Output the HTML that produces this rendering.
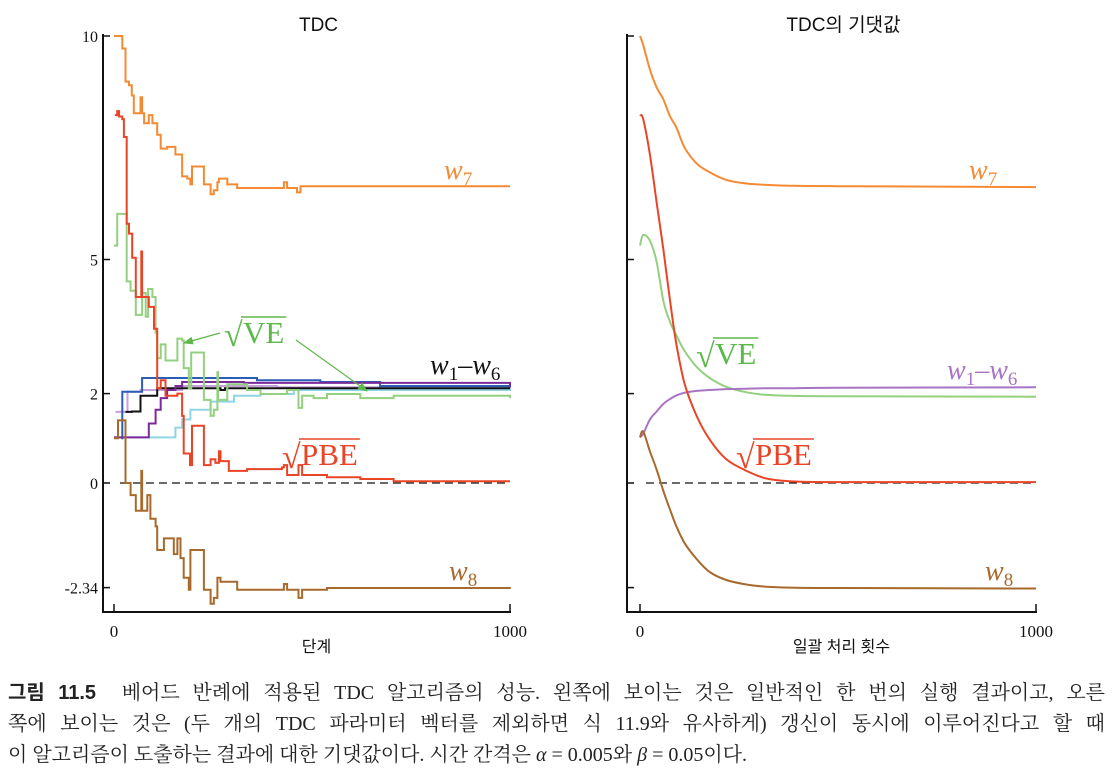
<!DOCTYPE html>
<html><head><meta charset="utf-8">
<style>
body{margin:0;background:#fff;width:1113px;height:783px;overflow:hidden;position:relative;font-family:"Liberation Serif","Noto Serif CJK KR",serif}
svg{position:absolute;left:0;top:0}
.cap{position:absolute;left:8px;width:1097px;font-size:20px;color:#222;text-align:justify;text-align-last:justify;white-space:nowrap;font-family:"Liberation Serif","Noto Serif CJK KR",serif}
.cap b{font-family:"Liberation Sans","Noto Sans CJK KR",sans-serif}
</style></head><body>
<svg id="chart" width="1113" height="660"></svg>
<div class="cap" style="top:676px"><b>그림 11.5</b>&nbsp; 베어드 반례에 적용된 TDC 알고리즘의 성능. 왼쪽에 보이는 것은 일반적인 한 번의 실행 결과이고, 오른</div>
<div class="cap" style="top:707px">쪽에 보이는 것은 (두 개의 TDC 파라미터 벡터를 제외하면 식 11.9와 유사하게) 갱신이 동시에 이루어진다고 할 때</div>
<div class="cap" style="top:738px;text-align-last:left;width:auto">이 알고리즘이 도출하는 결과에 대한 기댓값이다. 시간 간격은 <i>α</i> = 0.005와 <i>β</i> = 0.05이다.</div>
<script>
// ---- data: left (single run, step series) ----
const leftW7 = [[0,10],[21,9.72],[29,8.98],[38,8.9],[45,8.67],[50,8.27],[67,8.63],[71,8.27],[76,8.05],[88,8.23],[97,8.05],[109,7.79],[118,7.48],[134,7.52],[155,7.35],[172,6.86],[185,6.81],[193,6.68],[197,7.08],[227,6.68],[244,6.46],[252,6.55],[261,6.73],[265,6.81],[286,6.68],[311,6.6],[429,6.73],[437,6.6],[462,6.5],[471,6.64],[1000,6.64]];
const leftPBE = [[2,8.23],[8,8.32],[13,8.2],[21,8.14],[25,7.74],[32,5.8],[38,5.58],[46,5.04],[55,4.16],[69,5.18],[71,4.16],[88,3.94],[101,3.45],[109,2.12],[118,2.3],[130,1.95],[160,2.0],[172,1.5],[176,0.66],[192,0.4],[197,1.28],[227,0.4],[244,0.53],[256,0.45],[265,0.71],[269,0.49],[290,0.27],[336,0.31],[424,0.35],[429,0.4],[437,0.18],[466,0.4],[475,0.18],[538,0.13],[622,0.09],[706,0.04],[1000,0.04]];
const leftW8 = [[0,1.0],[10,1.4],[29,0],[42,-0.27],[55,-0.62],[69,0.27],[71,-0.62],[84,-0.27],[92,-0.8],[105,-0.97],[109,-1.5],[126,-1.24],[151,-1.59],[160,-1.24],[168,-1.68],[176,-2.12],[189,-2.39],[193,-1.5],[227,-2.39],[244,-2.7],[252,-2.57],[261,-2.12],[269,-2.21],[311,-2.39],[429,-2.26],[437,-2.39],[466,-2.57],[475,-2.39],[538,-2.35],[1000,-2.36]];
const leftVE = [[0,5.31],[8,6.02],[29,6.02],[32,4.51],[42,4.3],[55,3.76],[67,3.76],[71,4.25],[80,3.72],[86,4.34],[97,4.16],[105,3.36],[109,2.79],[118,3.1],[130,2.74],[160,3.23],[172,3.19],[176,2.57],[189,2.12],[195,2.92],[227,1.86],[244,1.5],[252,1.64],[261,2.48],[263,1.86],[286,2.21],[336,2.08],[370,1.99],[437,2.08],[466,1.68],[475,1.95],[504,1.9],[538,1.99],[622,1.9],[706,1.95],[1000,1.9]];
const leftBlue = [[18,1.0],[21,2.04],[71,2.35],[361,2.3],[521,2.26],[672,2.17],[1000,2.14]];
const leftBlack = [[29,1.59],[45,1.6],[67,1.95],[109,2.12],[269,2.08],[280,2.12],[1000,2.12]];
const leftPurple = [[0,1.02],[88,1.33],[105,1.64],[118,1.9],[134,2.08],[155,2.17],[172,2.26],[328,2.24],[1000,2.14]];
const leftLilac = [[4,1.59],[34,2.04],[67,2.08],[172,2.17],[412,2.14],[1000,2.12]];
const leftCyan = [[0,1.02],[155,1.24],[172,1.42],[193,1.64],[244,1.82],[303,1.95],[370,1.99],[454,2.08],[1000,2.12]];
// ---- data: right (expected values, sampled) ----
const rightT = [0,8,25,42,59,76,92,113,143,176,218,269,319,378,500,1000];
const rightW7 = [10,9.8,9.25,8.85,8.58,8.2,7.95,7.5,7.15,6.95,6.78,6.7,6.67,6.65,6.64,6.62];
const rightPBE = [8.23,8.14,7.35,6.28,5.22,4.07,3.1,2.21,1.5,0.97,0.53,0.27,0.1,0.04,0.02,0.02];
const rightVE = [5.31,5.55,5.42,4.95,4.07,3.6,3.3,2.95,2.6,2.35,2.15,2.03,1.97,1.95,1.94,1.93];
const rightW16 = [1.02,1.1,1.42,1.6,1.77,1.88,1.96,2.02,2.06,2.08,2.1,2.11,2.12,2.12,2.13,2.14];
const rightW8 = [1.02,1.15,0.71,0.3,-0.18,-0.6,-0.97,-1.35,-1.7,-1.99,-2.17,-2.27,-2.32,-2.34,-2.35,-2.36];
const yTicks = [10,5,2,0,-2.34];
const yTickLabels = ["10","5","2","0","-2.34"];
const xTicks = [0,1000];

const NS="http://www.w3.org/2000/svg";
const svg=document.getElementById('chart');
const yS=v=>483-v*44.7;
const xL=t=>114+t*0.396;
const xR=t=>640+t*0.396;
function mk(tag,attrs,parent){const e=document.createElementNS(NS,tag);for(const k in attrs)e.setAttribute(k,attrs[k]);(parent||svg).appendChild(e);return e;}
function txt(x,y,s,attrs){const e=mk('text',Object.assign({x:x,y:y},attrs));e.textContent=s;return e;}
function stepPath(pts,xs){let d='M'+xs(pts[0][0]).toFixed(1)+','+yS(pts[0][1]).toFixed(1);for(let i=1;i<pts.length;i++){d+='H'+xs(pts[i][0]).toFixed(1)+'V'+yS(pts[i][1]).toFixed(1);}return d;}
function smoothPath(ts,vs,xs){
  const P=ts.map((t,i)=>[xs(t),yS(vs[i])]);
  let d='M'+P[0][0].toFixed(1)+','+P[0][1].toFixed(1);
  for(let i=0;i<P.length-1;i++){
    const p0=P[Math.max(0,i-1)],p1=P[i],p2=P[i+1],p3=P[Math.min(P.length-1,i+2)];
    const c1=[p1[0]+(p2[0]-p0[0])/6,p1[1]+(p2[1]-p0[1])/6];
    const c2=[p2[0]-(p3[0]-p1[0])/6,p2[1]-(p3[1]-p1[1])/6];
    d+='C'+c1.map(v=>v.toFixed(1)).join(',')+' '+c2.map(v=>v.toFixed(1)).join(',')+' '+p2[0].toFixed(1)+','+p2[1].toFixed(1);
  }
  return d;}

function axes(x0,xs,label,title,prefix,showLabels){
  const a=mk('line',{x1:x0,y1:34,x2:x0,y2:612,stroke:'#111','stroke-width':2});
  
  const b=mk('line',{x1:x0-1,y1:612,x2:xs(1000)+1,y2:612,stroke:'#111','stroke-width':2});
  
  yTicks.forEach((v,i)=>{const t=mk('line',{x1:x0,y1:yS(v),x2:x0+7,y2:yS(v),stroke:'#111','stroke-width':1.5});
    
    if(showLabels){const l=txt(x0-5,yS(v)+6,yTickLabels[i],{'text-anchor':'end','font-size':16,fill:'#111'});
      }});
  xTicks.forEach(t=>{const k=mk('line',{x1:xs(t),y1:612,x2:xs(t),y2:604,stroke:'#111','stroke-width':1.5});
    
    const l=txt(xs(t),637,String(t),{'text-anchor':'middle','font-size':17,fill:'#111'});
    });
  const xl=txt((x0+xs(1000))/2+10,652,label,{'text-anchor':'middle','font-size':16,fill:'#111','font-family':'Liberation Sans, Noto Sans CJK KR, sans-serif'});
  
  const tt=txt((x0+xs(1000))/2+12,31,title,{'text-anchor':'middle','font-size':19,fill:'#111','font-family':'Liberation Sans, Noto Sans CJK KR, sans-serif'});
  
  const z=mk('line',{x1:xs(15),y1:yS(0),x2:xs(1000),y2:yS(0),stroke:'#111','stroke-width':1.2,'stroke-dasharray':'8,5'});
  
}
axes(103,xL,'단계','TDC','left',true);
axes(627,xR,'일괄 처리 횟수','TDC의 기댓값','right',false);

const leftSeries=[[leftCyan,'#8fd6e3','left-w-cyan'],[leftLilac,'#c7a0dc','left-w-lilac'],[leftBlue,'#2a5db5','left-w-blue'],[leftBlack,'#111','left-w-black'],[leftPurple,'#7b2a9c','left-w-purple'],[leftVE,'#93d07f','left-ve-line'],[leftW7,'#f58a33','left-w7-line'],[leftPBE,'#ea4426','left-pbe-line'],[leftW8,'#a8692c','left-w8-line']];
leftSeries.forEach(s=>{const p=mk('path',{d:stepPath(s[0],xL),fill:'none',stroke:s[1],'stroke-width':2});
  });
const rightSeries=[[rightW7,'#f58a33','right-w7-line'],[rightVE,'#93d07f','right-ve-line'],[rightW16,'#a874c4','right-w1-w6-line'],[rightPBE,'#ea4426','right-pbe-line'],[rightW8,'#a8692c','right-w8-line']];
rightSeries.forEach(s=>{const p=mk('path',{d:smoothPath(rightT,s[0],xR),fill:'none',stroke:s[1],'stroke-width':2});
  });

function wlabel(x,y,sub,color,name){const t=mk('text',{x:x,y:y,'font-size':28,fill:color,'font-style':'italic'});
  t.innerHTML='w<tspan font-size="19" font-style="normal" dy="6">'+sub+'</tspan>';
  }
function w16(x,y,color,name){const t=mk('text',{x:x,y:y,'font-size':28,fill:color,'font-style':'italic'});
  t.innerHTML='w<tspan font-size="19" font-style="normal" dy="6">1</tspan><tspan dy="-6" font-style="normal">–</tspan>w<tspan font-size="19" font-style="normal" dy="6">6</tspan>';
  }
function sq(x,y,s,color,name){const g=mk('g',{});
  
  const r=mk('text',{x:x,y:y+3,'font-size':34,fill:color},g);r.textContent='√';
  const t=mk('text',{x:x+19,y:y,'font-size':31,fill:color},g);t.textContent=s;
  const w=t.getComputedTextLength();
  mk('line',{x1:x+17,y1:y-26,x2:x+21+w,y2:y-26,stroke:color,'stroke-width':1.5},g);}
wlabel(444,179,'7','#f58a33','left-w7-label');
wlabel(449,580,'8','#a8692c','left-w8-label');
w16(430,374,'#111','left-w1-w6-label');
sq(224,343,'VE','#5cb84a','left-ve-label');
sq(282,465,'PBE','#ea4426','left-pbe-label');
wlabel(969,179,'7','#f58a33','right-w7-label');
wlabel(985,580,'8','#a8692c','right-w8-label');
w16(947,379,'#a874c4','right-w1-w6-label');
sq(696,364,'VE','#5cb84a','right-ve-label');
sq(736,465,'PBE','#ea4426','right-pbe-label');
// arrows
const defs=mk('defs',{});
const m=mk('marker',{id:'ah',markerWidth:10,markerHeight:8,refX:9,refY:4,orient:'auto',markerUnits:'userSpaceOnUse'},defs);
mk('path',{d:'M0,0L10,4L0,8Z',fill:'#5cb84a'},m);
const a1=mk('line',{x1:220,y1:333,x2:184,y2:343,stroke:'#5cb84a','stroke-width':1.2,'marker-end':'url(#ah)'});

const a2=mk('line',{x1:296,y1:340,x2:367,y2:391,stroke:'#5cb84a','stroke-width':1.2,'marker-end':'url(#ah)'});

</script>
</body></html>
